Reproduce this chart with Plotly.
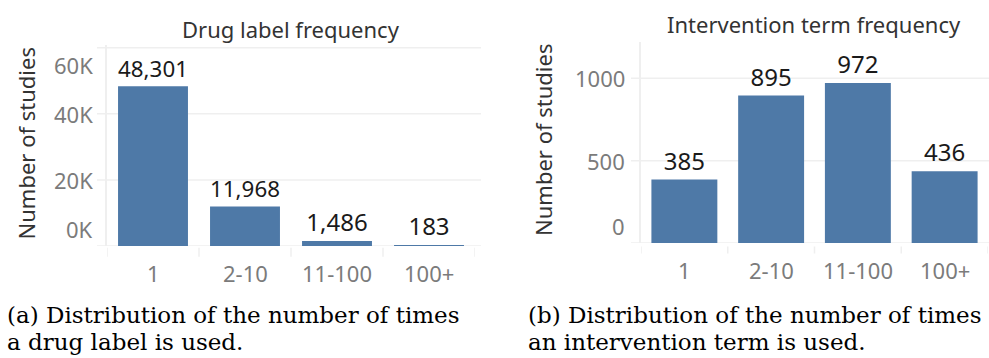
import plotly.graph_objects as go

# ---- data ----
categories = ["1", "2-10", "11-100", "100+"]
drug_counts = [48301, 11968, 1486, 183]
term_counts = [385, 895, 972, 436]

drug_tickvals = [0, 20000, 40000, 60000]
drug_ticktext = ["0K", "20K", "40K", "60K"]
term_tickvals = [0, 500, 1000]
term_ticktext = ["0", "500", "1000"]

title_left = "Drug label frequency"
title_right = "Intervention term frequency"
ytitle = "Number of studies"
caption_left = ["(a) Distribution of the number of times", "a drug label is used."]
caption_right = ["(b) Distribution of the number of times", "an intervention term is used."]

# ---- style ----
W, H = 989, 358
BAR = "#4e79a7"
GRID = "#efefef"
TICK = "#7b7b7b"
DARK = "#333333"
FONT = "Noto Sans"
SERIF = "DejaVu Serif"


def px_x(p):
    return p / W


def px_y(p):
    return 1 - p / H


panels = [
    dict(xa="x", ya="y", counts=drug_counts, labels=[f"{v:,}" for v in drug_counts],
         tv=drug_tickvals, tt=drug_ticktext, top=60800, x0=107, x1=475, yb=246, yt=45,
         title=title_left, title_x=291, title_y=28.5, ytitle_x=25, ytitle_y=143.5,
         tick_right=94.5, grid_x0=97, grid_x1=481, sep0=247.7, sep1=256.7,
         cap=caption_left, cap_x=6),
    dict(xa="x2", ya="y2", counts=term_counts, labels=[f"{v}" for v in term_counts],
         tv=term_tickvals, tt=term_ticktext, top=1222, x0=641, x1=988, yb=243, yt=41.7,
         title=title_right, title_x=814, title_y=23.5, ytitle_x=543, ytitle_y=140,
         tick_right=626.5, grid_x0=631, grid_x1=989, sep0=246.5, sep1=253.5,
         cap=caption_right, cap_x=527),
]

fig = go.Figure()
shapes = []
annotations = []
layout = dict(width=W, height=H, margin=dict(l=0, r=0, t=0, b=0),
              paper_bgcolor="white", plot_bgcolor="white", bargap=0.24)

for p in panels:
    fig.add_trace(go.Bar(
        x=categories, y=p["counts"], xaxis=p["xa"], yaxis=p["ya"],
        marker=dict(color=BAR, line=dict(width=0)),
        text=p["labels"], textposition="outside",
        textfont=dict(family=FONT, size=24, color="#1a1a1a"),
        cliponaxis=False, showlegend=False, hoverinfo="x+y",
    ))
    xkey = "xaxis" + p["xa"][1:]
    ykey = "yaxis" + p["ya"][1:]
    layout[xkey] = dict(domain=[px_x(p["x0"]), px_x(p["x1"])], anchor=p["ya"],
                        type="category", range=[-0.5, len(categories) - 0.5], showgrid=False,
                        zeroline=False, showline=False, ticks="", showticklabels=False)
    layout[ykey] = dict(domain=[px_y(p["yb"]), px_y(p["yt"])], anchor=p["xa"],
                        range=[0, p["top"]], showgrid=False, zeroline=False,
                        showline=True, linecolor=GRID, linewidth=1.5, ticks="",
                        showticklabels=False)

    # horizontal grid lines (Tableau style, extending a bit left of the axis)
    for v in p["tv"]:
        shapes.append(dict(type="line", xref="paper", yref=p["ya"],
                           x0=px_x(p["grid_x0"]), x1=px_x(p["grid_x1"]), y0=v, y1=v,
                           line=dict(color=GRID, width=1.5), layer="below"))
    # y tick labels (end labels are pulled inside, as Tableau does)
    for v, t in zip(p["tv"], p["tt"]):
        if v == 0:
            ya = "bottom"
        elif p["top"] - v < 0.05 * p["top"]:
            ya = "top"
        else:
            ya = "middle"
        annotations.append(dict(text=t, xref="paper", yref=p["ya"], x=px_x(p["tick_right"]),
                                y=v, xanchor="right", yanchor=ya, showarrow=False,
                                font=dict(family=FONT, size=22, color=TICK)))
    # category separators under the axis
    for i in range(len(categories) + 1):
        shapes.append(dict(type="line", xref=p["xa"], yref="paper", x0=i - 0.5, x1=i - 0.5,
                           y0=px_y(p["sep0"]), y1=px_y(p["sep1"]),
                           line=dict(color=GRID, width=1.5)))
    # x tick labels (placed by category index)
    for i, c in enumerate(categories):
        annotations.append(dict(text=c, xref=p["xa"], yref="paper", x=i,
                                y=px_y(p["yb"] + 26.5), xanchor="center", yanchor="middle",
                                showarrow=False, font=dict(family=FONT, size=22, color=TICK)))
    # chart title
    annotations.append(dict(text=p["title"], x=px_x(p["title_x"]), y=px_y(p["title_y"]),
                            xref="paper", yref="paper", showarrow=False,
                            xanchor="center", yanchor="middle",
                            font=dict(family=FONT, size=22, color=DARK)))
    # y-axis title
    annotations.append(dict(text=ytitle, x=px_x(p["ytitle_x"]), y=px_y(p["ytitle_y"]),
                            xref="paper", yref="paper", showarrow=False, textangle=-90,
                            xanchor="center", yanchor="middle",
                            font=dict(family=FONT, size=22, color=DARK)))
    # sub-figure caption (two lines, tight LaTeX-like line spacing)
    for line, ypx in zip(p["cap"], [315.0, 342.0]):
        annotations.append(dict(text=line, x=px_x(p["cap_x"]), y=px_y(ypx),
                                xref="paper", yref="paper", showarrow=False,
                                xanchor="left", yanchor="middle", align="left",
                                borderpad=0,
                                font=dict(family=SERIF, size=23, color="#000000")))

layout["shapes"] = shapes
layout["annotations"] = annotations
fig.update_layout(**layout)

fig.write_html("out.html", config={"displayModeBar": False},
               post_script="document.body.style.margin='0';document.body.style.overflow='hidden';")
